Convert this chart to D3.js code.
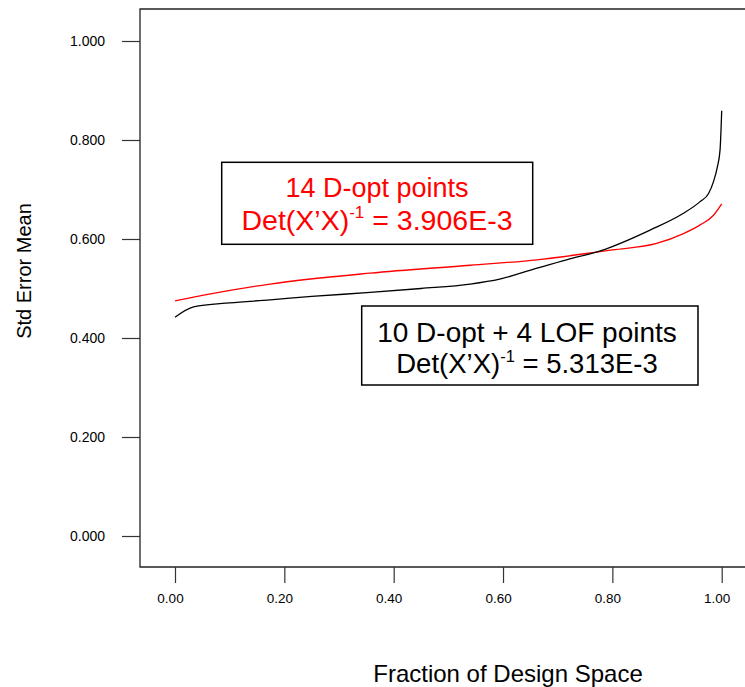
<!DOCTYPE html>
<html>
<head>
<meta charset="utf-8">
<script src="https://cdn.jsdelivr.net/npm/d3@7"></script>
<style>
  html, body { margin: 0; padding: 0; background: #fff; }
  svg { display: block; font-family: "Liberation Sans", Arial, sans-serif; }
</style>
</head>
<body>
<svg id="chart" width="745" height="687"></svg>
<script>
// ---- data ----
const blackX = [0, 0.034, 0.10, 0.174, 0.25, 0.357, 0.45, 0.540, 0.594, 0.662, 0.716, 0.778, 0.869, 0.930, 0.960, 0.976, 0.985, 0.992, 0.997, 1.0];
const blackY = [0.442, 0.463, 0.471, 0.477, 0.484, 0.492, 0.500, 0.509, 0.519, 0.541, 0.558, 0.576, 0.618, 0.652, 0.675, 0.692, 0.716, 0.745, 0.780, 0.859];
const redX = [0, 0.05, 0.174, 0.357, 0.540, 0.662, 0.761, 0.80, 0.881, 0.930, 0.960, 0.985, 1.0];
const redY = [0.475, 0.486, 0.509, 0.531, 0.547, 0.558, 0.572, 0.578, 0.591, 0.611, 0.628, 0.648, 0.671];
const yTicks = [0, 0.2, 0.4, 0.6, 0.8, 1.0];
const xTicks = [0, 0.2, 0.4, 0.6, 0.8, 1.0];
const xTitle = "Fraction of Design Space";
const yTitle = "Std Error Mean";
const redLabel = ["14 D-opt points", "3.906E-3"];
const blackLabel = ["10 D-opt + 4 LOF points", "5.313E-3"];

const svg = d3.select("#chart");
const x = d3.scaleLinear().domain([0, 1]).range([175, 721.7]);
const y = d3.scaleLinear().domain([0, 1]).range([536, 41]);

const frame = {left: 140, top: 9, bottom: 567, right: 770};

// frame
svg.append("path")
  .attr("d", `M${frame.right},${frame.top}H${frame.left}V${frame.bottom}H${frame.right}`)
  .attr("fill", "none").attr("stroke", "#222").attr("stroke-width", 1.3);

// y axis
const gy = svg.append("g").attr("transform", `translate(${frame.left},0)`)
  .call(d3.axisLeft(y).tickValues(yTicks).tickFormat(d3.format(".3f")).tickSize(18).tickPadding(17));
gy.select(".domain").remove();
gy.selectAll("line").attr("stroke", "#333").attr("stroke-width", 1.2);
gy.selectAll("text").attr("font-size", 14).attr("fill", "#000").attr("font-family", "Liberation Sans, Arial, sans-serif");

// x axis
const gx = svg.append("g").attr("transform", `translate(0,${frame.bottom})`)
  .call(d3.axisBottom(x).tickValues(xTicks).tickFormat(d3.format(".2f")).tickSize(16).tickPadding(10));
gx.select(".domain").remove();
gx.selectAll("line").attr("stroke", "#333").attr("stroke-width", 1.2);
gx.selectAll("text").attr("font-size", 13.5).attr("fill", "#000").attr("dx", -5)
  .attr("font-family", "Liberation Sans, Arial, sans-serif");

// titles
svg.append("text").attr("x", 508).attr("y", 682).attr("text-anchor", "middle")
  .attr("font-size", 24).text(xTitle);
svg.append("text").attr("transform", "translate(31,271) rotate(-90)").attr("text-anchor", "middle")
  .attr("font-size", 20).text(yTitle);

// lines
const line = d3.line().x(d => x(d[0])).y(d => y(d[1])).curve(d3.curveMonotoneX);
svg.append("path").datum(redX.map((v, i) => [v, redY[i]]))
  .attr("d", line).attr("fill", "none").attr("stroke", "#ff0000").attr("stroke-width", 1.3);
svg.append("path").datum(blackX.map((v, i) => [v, blackY[i]]))
  .attr("d", line).attr("fill", "none").attr("stroke", "#000").attr("stroke-width", 1.3);

// annotation boxes
function box(x0, y0, x1, y1, cx, b1, b2, lines, color, fs1, fs2) {
  svg.append("rect").attr("x", x0).attr("y", y0).attr("width", x1 - x0).attr("height", y1 - y0)
    .attr("fill", "#fff").attr("stroke", "#000").attr("stroke-width", 1.5);
  svg.append("text").attr("x", cx).attr("y", b1).attr("text-anchor", "middle")
    .attr("font-size", fs1).attr("fill", color).text(lines[0]);
  const t = svg.append("text").attr("x", cx).attr("y", b2).attr("text-anchor", "middle")
    .attr("font-size", fs2).attr("fill", color);
  t.append("tspan").text("Det(X\u2019X)");
  t.append("tspan").attr("font-size", fs2 * 0.6).attr("dy", -fs2 * 0.42).text("-1");
  t.append("tspan").attr("dy", fs2 * 0.42).text(" = " + lines[1]);
}
box(221.7, 162.3, 532.7, 244.3, 377, 197, 230, redLabel, "#ff0000", 27, 28.5);
box(361.7, 306, 698, 385, 527, 341.7, 373.3, blackLabel, "#000", 28, 27.5);
</script>
</body>
</html>
